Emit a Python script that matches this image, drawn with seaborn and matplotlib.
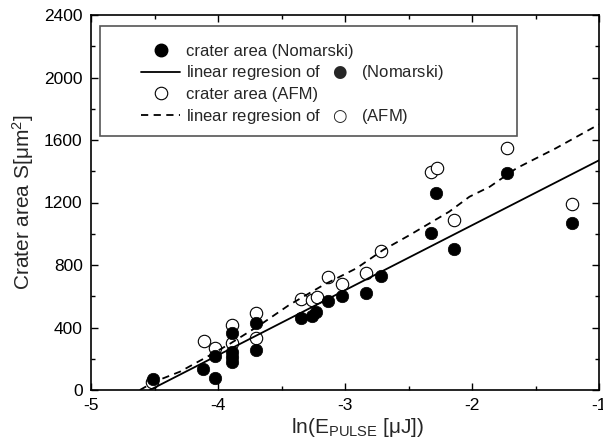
import matplotlib
matplotlib.use('Agg')
import matplotlib.pyplot as plt
import seaborn as sns
from matplotlib.lines import Line2D
from matplotlib.patches import Rectangle

# data
nom_x = [-4.51, -4.117, -4.025, -4.025, -3.886, -3.886, -3.886, -3.886,
         -3.703, -3.703, -3.349, -3.257, -3.226, -3.134, -3.021, -2.833,
         -2.72, -2.322, -2.282, -2.138, -1.724, -1.213]
nom_y = [70, 134, 79, 218, 363, 245, 213, 181,
         427, 256, 459, 474, 501, 570, 602, 619,
         730, 1007, 1263, 900, 1391, 1071]

afm_x = [-4.52, -4.11, -4.025, -3.886, -3.886, -3.703, -3.703, -3.344,
         -3.257, -3.22, -3.134, -3.021, -2.833, -2.72, -2.322, -2.274,
         -2.138, -1.724, -1.213]
afm_y = [50, 314, 271, 416, 299, 491, 331, 580,
         576, 597, 721, 678, 747, 892, 1397, 1423,
         1088, 1551, 1188]

fit_nom_x = [-4.536, -1.0]
fit_nom_y = [0, 1470]

fit_afm_x = [-4.615, -4.50, -4.30, -4.06, -3.90, -3.67, -3.44, -3.17,
             -2.91, -2.70, -2.49, -2.18, -2.02, -1.86, -1.65, -1.34, -1.0]
fit_afm_y = [0, 53, 117, 224, 299, 416, 544, 672,
             779, 896, 992, 1141, 1237, 1301, 1419, 1547, 1700]

sns.set_theme(style='ticks')
plt.rcParams['font.family'] = ['Liberation Sans', 'DejaVu Sans']
plt.rcParams['mathtext.fontset'] = 'custom'
plt.rcParams['mathtext.rm'] = 'Liberation Sans'
plt.rcParams['mathtext.it'] = 'Liberation Sans:italic'
plt.rcParams['mathtext.sf'] = 'DejaVu Sans'
plt.rcParams['axes.unicode_minus'] = False

fig = plt.figure(figsize=(6.03, 4.47), dpi=100)
ax = fig.add_axes([91 / 603, 1 - 390 / 447, 508 / 603, 375 / 447])

sns.scatterplot(x=afm_x, y=afm_y, ax=ax, marker='o', s=80,
                facecolor='white', edgecolor='black', linewidth=0.8, zorder=3)
sns.scatterplot(x=nom_x, y=nom_y, ax=ax, marker='o', s=80,
                color='black', edgecolor='black', linewidth=0.5, zorder=4)
sns.lineplot(x=fit_nom_x, y=fit_nom_y, ax=ax, color='black', lw=1.3,
             sort=False, estimator=None, zorder=5)
sns.lineplot(x=fit_afm_x, y=fit_afm_y, ax=ax, color='black', lw=1.3,
             linestyle=(0, (4, 3)), sort=False, estimator=None, zorder=5)

ax.set_xlim(-5, -1)
ax.set_ylim(0, 2400)
ax.set_xticks([-5, -4, -3, -2, -1])
ax.set_xticks([-4.5, -3.5, -2.5, -1.5], minor=True)
ax.set_yticks(range(0, 2401, 400))
ax.set_yticks(range(200, 2400, 400), minor=True)
ax.tick_params(which='both', direction='in', top=True, right=True,
               width=1.0, labelsize=12.5, pad=6, colors='black')
ax.tick_params(which='major', length=5)
ax.tick_params(which='minor', length=3)
for sp in ax.spines.values():
    sp.set_visible(True)
    sp.set_linewidth(1.2)
    sp.set_color('black')

ax.set_xlabel('ln(E$_{\\mathrm{PULSE}}$ [μJ])', fontsize=15)
ax.xaxis.set_label_coords(0.524, -0.07)
ax.set_ylabel('Crater area S[μm$^{2}$]', fontsize=15, labelpad=6)

# legend frame drawn separately so its padding can match the reference
ax.add_patch(Rectangle((9 / 508, (390 - 136) / 375), 417 / 508, 110 / 375,
                       transform=ax.transAxes, fill=False,
                       edgecolor='#555555', lw=1.2, zorder=6))
handles = [
    Line2D([], [], ls='none', marker='o', ms=9, color='black'),
    Line2D([], [], ls='-', color='black', lw=1.3),
    Line2D([], [], ls='none', marker='o', ms=9, mfc='white', mec='black',
           mew=0.8),
    Line2D([], [], ls=(0, (4, 3)), color='black', lw=1.3),
]
labels = ['crater area (Nomarski)',
          'linear regresion of   $\\mathsf{●}$   (Nomarski)',
          'crater area (AFM)',
          'linear regresion of   $\\mathsf{○}$   (AFM)']
ax.legend(handles, labels, loc='upper left', frameon=False, fontsize=12,
          bbox_to_anchor=((141 - 91) / 508, (390 - 44) / 375),
          borderpad=0, borderaxespad=0, handlelength=2.35,
          handletextpad=0.35, labelspacing=0.27)

fig.savefig('out.png', dpi=100)
